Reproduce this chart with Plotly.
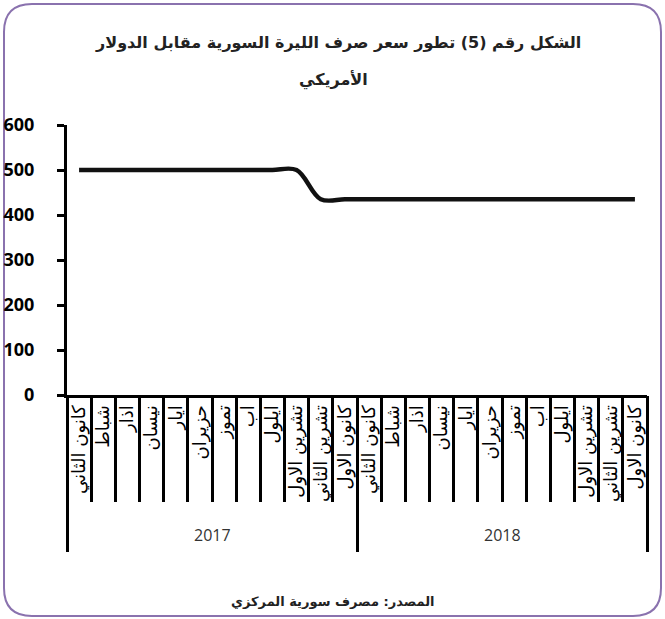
import plotly.graph_objects as go

month_names = ["كانون الثاني", "شباط", "اذار", "نيسان", "ايار", "حزيران",
               "تموز", "اب", "ايلول", "تشرين الاول", "تشرين الثاني", "كانون الاول"]
year_names = ["2017", "2018"]
months = month_names * 2
rate = [500, 500, 500, 500, 500, 500, 500, 500, 500, 500, 435, 435,
        435, 435, 435, 435, 435, 435, 435, 435, 435, 435, 435, 435]
y_ticks = [0, 100, 200, 300, 400, 500, 600]

title_line1 = "الشكل رقم (5) تطور سعر صرف الليرة السورية مقابل الدولار"
title_line2 = "الأمريكي"
source_text = "المصدر: مصرف سورية المركزي"

W, H = 665, 619
ML, MR, MT, MB = 67, 18, 125, 224

n = len(rate)
idx = list(range(n))
xr = [-0.5, n - 0.5]
month_bounds = [i - 0.5 for i in range(n + 1)]
year_bounds = [-0.5, 11.5, 23.5]
year_centers = [5.5, 17.5]

fig = go.Figure()
fig.add_trace(go.Scatter(
    x=idx, y=rate, mode="lines",
    line=dict(color="#111111", width=4.5, shape="spline", smoothing=1),
    hoverinfo="skip", showlegend=False,
))
# invisible traces to activate overlay axes
fig.add_trace(go.Scatter(x=[0], y=[0], xaxis="x2", mode="markers",
                         marker=dict(opacity=0), hoverinfo="skip", showlegend=False))
fig.add_trace(go.Scatter(x=[0], y=[0], xaxis="x3", mode="markers",
                         marker=dict(opacity=0), hoverinfo="skip", showlegend=False))

fig.update_layout(
    width=W, height=H,
    margin=dict(l=ML, r=MR, t=MT, b=MB, autoexpand=False),
    paper_bgcolor="white", plot_bgcolor="white",
    xaxis=dict(
        range=xr, tickvals=idx, ticktext=months, tickangle=-90,
        showline=True, linecolor="black", linewidth=3,
        ticks="", automargin=False,
        tickfont=dict(family="DejaVu Sans", size=18, color="black"),
        showgrid=False, zeroline=False,
    ),
    xaxis2=dict(
        overlaying="x", anchor="y", side="bottom", range=xr,
        tickvals=month_bounds, showticklabels=False,
        ticks="outside", ticklen=106, tickwidth=3, tickcolor="black",
        showline=False, showgrid=False, zeroline=False, automargin=False,
    ),
    xaxis3=dict(
        overlaying="x", anchor="y", side="bottom", range=xr,
        tickvals=year_bounds, showticklabels=False,
        ticks="outside", ticklen=156, tickwidth=3, tickcolor="black",
        showline=False, showgrid=False, zeroline=False, automargin=False,
    ),
    yaxis=dict(
        range=[0, 600], tickvals=y_ticks, showline=True, linecolor="black", linewidth=3,
        ticks="outside", ticklen=7, tickwidth=3, tickcolor="black",
        tickfont=dict(family="Open Sans", size=18, color="black", weight="bold"),
        showgrid=False, zeroline=False, ticklabelstandoff=19, automargin=False,
    ),
)

# rounded border around the chart (paper coords)
def px_x(p):
    return (p - ML) / (W - ML - MR)

def px_y(p):
    return (H - MB - p) / (H - MT - MB)

x0, x1, y0, y1, r = 4, 661, 4, 616, 28
path = (f"M {px_x(x0 + r)},{px_y(y0)} L {px_x(x1 - r)},{px_y(y0)} "
        f"Q {px_x(x1)},{px_y(y0)} {px_x(x1)},{px_y(y0 + r)} "
        f"L {px_x(x1)},{px_y(y1 - r)} Q {px_x(x1)},{px_y(y1)} {px_x(x1 - r)},{px_y(y1)} "
        f"L {px_x(x0 + r)},{px_y(y1)} Q {px_x(x0)},{px_y(y1)} {px_x(x0)},{px_y(y1 - r)} "
        f"L {px_x(x0)},{px_y(y0 + r)} Q {px_x(x0)},{px_y(y0)} {px_x(x0 + r)},{px_y(y0)} Z")
fig.add_shape(type="path", xref="paper", yref="paper", path=path,
              line=dict(color="#8A72AE", width=2), layer="below")

title_font = dict(family="DejaVu Sans", size=16, color="#222222", weight="bold")
fig.add_annotation(text=title_line1, xref="paper", yref="paper",
                   x=px_x(338), y=px_y(42), xanchor="center", yanchor="middle",
                   showarrow=False, font=title_font)
fig.add_annotation(text=title_line2, xref="paper", yref="paper",
                   x=px_x(333), y=px_y(80), xanchor="center", yanchor="middle",
                   showarrow=False, font=title_font)

for yc, yn in zip(year_centers, year_names):
    fig.add_annotation(text=yn, xref="x", yref="paper", x=yc, y=px_y(535),
                       xanchor="center", yanchor="middle", showarrow=False,
                       font=dict(family="Open Sans", size=16, color="#333333"))

fig.add_annotation(text=source_text, xref="paper", yref="paper",
                   x=px_x(333), y=px_y(601), xanchor="center", yanchor="middle",
                   showarrow=False,
                   font=dict(family="DejaVu Sans", size=13, color="#222222", weight="bold"))

fig.write_html("out.html", config={"displayModeBar": False},
               post_script="document.body.style.margin='0';")
